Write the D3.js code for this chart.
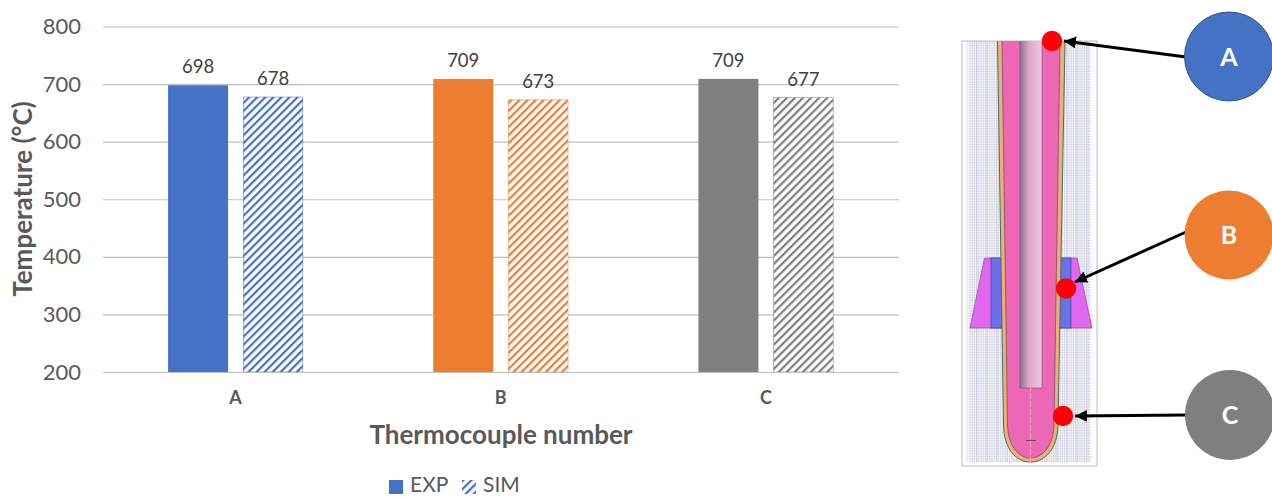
<!DOCTYPE html>
<html><head><meta charset="utf-8">
<script src="https://cdn.jsdelivr.net/npm/d3@7"></script>
<style>html,body{margin:0;padding:0;background:#fff}svg{display:block}text{font-family:Lato,"Open Sans",sans-serif}</style>
</head><body><svg id="c" width="1272" height="497"></svg>
<script>
const categories=["A","B","C"];
const seriesNames=["EXP","SIM"];
const expValues=[698,709,709];
const simValues=[678,673,677];
const yTicks=[200,300,400,500,600,700,800];
const colors=["#4472C4","#ED7D31","#7F7F7F"];
const xTitle="Thermocouple number";
const yTitle="Temperature (°C)";

const svg=d3.select("#c");
const defs=svg.append("defs");
const x0=d3.scaleBand().domain(categories).range([103,898.5]);
const x1=d3.scaleBand().domain(seriesNames).range([x0.bandwidth()/2-67.5,x0.bandwidth()/2+67.5]).paddingInner(0.2).paddingOuter(0);
const y=d3.scaleLinear().domain([200,800]).range([372,26.5]);
const ink="#595959";

colors.forEach((c,i)=>{
  const p=defs.append("pattern").attr("id","h"+i).attr("patternUnits","userSpaceOnUse")
    .attr("width",5.7).attr("height",5.7).attr("patternTransform","rotate(45)");
  p.append("rect").attr("width",5.7).attr("height",5.7).attr("fill","#fff");
  p.append("rect").attr("width",2.2).attr("height",5.7).attr("fill",c);
});

// grid and y labels
const yAxis=d3.axisLeft(y).tickValues(yTicks).tickSize(-(899-103)).tickPadding(22);
const gy=svg.append("g").attr("transform","translate(103,0)").call(yAxis);
gy.select(".domain").remove();
gy.selectAll("line").attr("stroke","#BFBFBF").attr("stroke-width",1.2);
gy.selectAll("text").attr("font-size",22).attr("fill",ink).attr("x",-22);

// bars
const groups=svg.append("g").selectAll("g").data(categories).join("g")
  .attr("transform",d=>`translate(${x0(d)},0)`);
groups.append("rect").attr("x",x1("EXP")).attr("width",x1.bandwidth())
  .attr("y",(d,i)=>y(expValues[i])).attr("height",(d,i)=>y(200)-y(expValues[i]))
  .attr("fill",(d,i)=>colors[i]);
groups.append("rect").attr("x",x1("SIM")+0.25).attr("width",x1.bandwidth()-0.5)
  .attr("y",(d,i)=>y(simValues[i])+0.25).attr("height",(d,i)=>y(200)-y(simValues[i])-0.25)
  .attr("fill",(d,i)=>`url(#h${i})`).attr("stroke",(d,i)=>colors[i]).attr("stroke-width",0.5);
groups.append("text").attr("x",x1("EXP")+x1.bandwidth()/2).attr("y",(d,i)=>y(expValues[i])-12)
  .attr("text-anchor","middle").attr("font-size",18.5).attr("fill","#404040").text((d,i)=>expValues[i]);
groups.append("text").attr("x",x1("SIM")+x1.bandwidth()/2).attr("y",(d,i)=>y(simValues[i])-11.5)
  .attr("text-anchor","middle").attr("font-size",18.5).attr("fill","#404040").text((d,i)=>simValues[i]);

// x axis
const xAxis=d3.axisBottom(x0).tickSize(0).tickPadding(19);
const gx=svg.append("g").attr("transform","translate(0,372)").call(xAxis);
gx.select(".domain").attr("stroke","#BFBFBF").attr("stroke-width",1.2);
gx.selectAll("text").attr("font-size",18).attr("font-weight",700).attr("fill",ink).attr("font-family","Lato");

svg.append("text").attr("x",501).attr("y",444).attr("text-anchor","middle").attr("font-size",26)
  .attr("font-weight",700).attr("fill",ink).text(xTitle);
svg.append("text").attr("transform","translate(32,199) rotate(-90)").attr("text-anchor","middle").attr("font-size",26)
  .attr("font-weight",700).attr("fill",ink).text(yTitle);

// legend
const legendX=d3.scaleOrdinal().domain(seriesNames).range([389,462]);
const lg=svg.append("g").selectAll("g").data(seriesNames).join("g").attr("transform",d=>`translate(${legendX(d)},480)`);
lg.append("rect").attr("width",14).attr("height",14).attr("fill",(d,i)=>i?"url(#h0)":colors[0]);
lg.append("text").attr("x",21).attr("y",12).attr("font-size",21).attr("fill",ink).text(d=>d);

// schematic (decorative illustration, right)
const sc=svg.append("g");
sc.append("rect").attr("x",962).attr("y",41).attr("width",135).attr("height",425).attr("fill","#fff");
const mesh=sc.append("g").attr("stroke","#B8B8D4").attr("stroke-width",0.6);
d3.range(970,1091,2.2).forEach(v=>mesh.append("line").attr("x1",v).attr("x2",v).attr("y1",41).attr("y2",462));
d3.range(967,1095,10).forEach(v=>mesh.append("line").attr("x1",v).attr("x2",v).attr("y1",41).attr("y2",462).attr("stroke","#C4C4D8"));
d3.range(43,462,2.6).forEach(v=>mesh.append("line").attr("x1",968).attr("x2",1092).attr("y1",v).attr("y2",v).attr("stroke","#CFCFE2"));
sc.append("rect").attr("x",962).attr("y",41).attr("width",135).attr("height",425).attr("fill","none").attr("stroke","#BDBDBD").attr("stroke-width",1);

// clamp
sc.append("path").attr("d","M984.5 258H1077L1092 328H970Z").attr("fill","#E266EE").attr("stroke","#8A5A98").attr("stroke-width",0.8);
sc.append("rect").attr("x",991).attr("y",258).attr("width",80).attr("height",70).attr("fill","#6A70E8").attr("stroke","#4A4A90").attr("stroke-width",0.8);
// tube: open at the top edge
sc.append("path").attr("d","M997.5 41L1003.5 425C1004 449 1016 462 1030.5 462C1045 462 1057.5 449 1058 425L1065 41").attr("fill","#EDB074").attr("stroke","#3F6F6A").attr("stroke-width",1);
sc.append("path").attr("d","M1002 41L1007.5 425C1008 445 1018 458 1030.5 458C1043 458 1053.5 445 1054 425L1060 41")
  .attr("fill","#EC68B4").attr("stroke","#7A4A70").attr("stroke-width",0.8);
const gr=defs.append("linearGradient").attr("id","rod");
gr.append("stop").attr("offset","0").attr("stop-color","#8F7390");
gr.append("stop").attr("offset","0.4").attr("stop-color","#D8A8CC");
gr.append("stop").attr("offset","1").attr("stop-color","#F0C8E4");
sc.append("rect").attr("x",1020).attr("y",41).attr("width",22).attr("height",347).attr("fill","url(#rod)");
sc.append("path").attr("d","M1020 41V388H1042V41").attr("fill","none").attr("stroke","#6A5A70").attr("stroke-width",0.7);
sc.append("line").attr("x1",1030.5).attr("x2",1030.5).attr("y1",41).attr("y2",464).attr("stroke","#FF9FB8").attr("stroke-width",1.2).attr("stroke-dasharray","6 2");
sc.append("line").attr("x1",1026).attr("x2",1036).attr("y1",440.5).attr("y2",440.5).attr("stroke","#555").attr("stroke-width",1);

// arrows
const mk=defs.append("marker").attr("id","ah").attr("markerUnits","userSpaceOnUse").attr("markerWidth",14).attr("markerHeight",14)
  .attr("refX",12).attr("refY",6).attr("orient","auto");
mk.append("path").attr("d","M0 0L12 6L0 12Z").attr("fill","#000");
[[1186,57,1064,41],[1186,232,1075,282],[1186,415,1075,416]].forEach(a=>{
  sc.append("line").attr("x1",a[0]).attr("y1",a[1]).attr("x2",a[2]).attr("y2",a[3]).attr("stroke","#000").attr("stroke-width",3).attr("marker-end","url(#ah)");
});
[[1052,41],[1066,288.5],[1063,416]].forEach(p=>{
  sc.append("circle").attr("cx",p[0]).attr("cy",p[1]).attr("r",10.2).attr("fill","#FF0000");
});
const bub=[[1229,56.5,44.5],[1229,235,44.5],[1230,415,45]];
bub.forEach((b,i)=>{
  sc.append("circle").attr("cx",b[0]).attr("cy",b[1]).attr("r",b[2]).attr("fill",colors[i]).attr("stroke",i==0?"#2F528F":"none").attr("stroke-width",1);
  sc.append("text").attr("x",b[0]).attr("y",b[1]+9).attr("text-anchor","middle").attr("font-size",25).attr("font-weight",700).attr("fill","#fff").text(categories[i]);
});
</script></body></html>
